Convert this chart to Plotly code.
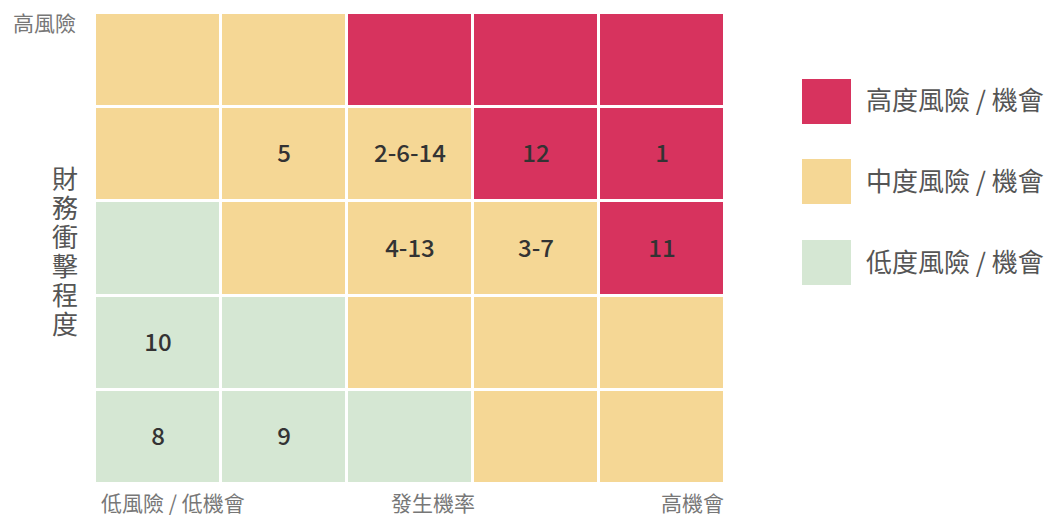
import plotly.graph_objects as go

# likelihood (x) 1..5, impact (y) 5..1 top to bottom
likelihood = [1, 2, 3, 4, 5]
impact = [5, 4, 3, 2, 1]

# risk level: 0 = low, 1 = medium, 2 = high
level_rows = [
    [1, 1, 2, 2, 2],
    [1, 1, 1, 2, 2],
    [0, 1, 1, 1, 2],
    [0, 0, 1, 1, 1],
    [0, 0, 0, 1, 1],
]
label_rows = [
    ["", "", "", "", ""],
    ["", "5", "2-6-14", "12", "1"],
    ["", "", "4-13", "3-7", "11"],
    ["10", "", "", "", ""],
    ["8", "9", "", "", ""],
]

level_names = ["低度風險 / 機會", "中度風險 / 機會", "高度風險 / 機會"]
level_colors = ["#D5E7D3", "#F5D795", "#D7335E"]

y_title = "財務衝擊程度"
top_label = "高風險"
bottom_left = "低風險 / 低機會"
bottom_mid = "發生機率"
bottom_right = "高機會"

FONT = "Noto Sans CJK TC"

colorscale = [
    [0.0, level_colors[0]], [1 / 3, level_colors[0]],
    [1 / 3, level_colors[1]], [2 / 3, level_colors[1]],
    [2 / 3, level_colors[2]], [1.0, level_colors[2]],
]

fig = go.Figure(go.Heatmap(
    x=likelihood, y=impact, z=level_rows, text=label_rows,
    texttemplate="%{text}",
    textfont=dict(family=FONT, size=24, color="#333333", weight=500),
    colorscale=colorscale, zmin=-0.5, zmax=2.5, showscale=False,
    xgap=3, ygap=3, hoverinfo="skip",
))

# page offset (default body margin)
OFF = 8
W, H = 1059, 515
L, R, T, B = 95, 725, 13, 484           # plot area in page pixels
ml, mt = L - OFF, T - OFF
mr, mb = W - (R - OFF), H - (B - OFF)
pw, ph = R - L, B - T

def px(x):
    return (x - L) / pw

def py(y):
    return (B - y) / ph

annotations = []
shapes = []

# legend
legend_tops = [79, 159, 240]
for i, top in enumerate(legend_tops):
    lvl = 2 - i
    shapes.append(dict(type="rect", xref="paper", yref="paper",
                       x0=px(802), x1=px(851), y0=py(top + 45), y1=py(top),
                       fillcolor=level_colors[lvl], line=dict(width=0)))
    annotations.append(dict(xref="paper", yref="paper", x=px(864), y=py(top + 20),
                            text=level_names[lvl], showarrow=False,
                            xanchor="left", yanchor="middle",
                            font=dict(family=FONT, size=26, color="#555555")))

# y title stacked characters
for k, ch in enumerate(y_title):
    annotations.append(dict(xref="paper", yref="paper", x=px(65), y=py(177 + 29 * k),
                            text=ch, showarrow=False, xanchor="center", yanchor="middle",
                            font=dict(family=FONT, size=26, color="#555555")))

annotations.append(dict(xref="paper", yref="paper", x=px(11), y=py(22), text=top_label,
                        showarrow=False, xanchor="left", yanchor="middle",
                        font=dict(family=FONT, size=21, color="#777777")))
annotations.append(dict(xref="paper", yref="paper", x=px(99), y=py(502), text=bottom_left,
                        showarrow=False, xanchor="left", yanchor="middle",
                        font=dict(family=FONT, size=21, color="#777777")))
annotations.append(dict(xref="paper", yref="paper", x=px(433), y=py(502), text=bottom_mid,
                        showarrow=False, xanchor="center", yanchor="middle",
                        font=dict(family=FONT, size=21, color="#777777")))
annotations.append(dict(xref="paper", yref="paper", x=px(726), y=py(502), text=bottom_right,
                        showarrow=False, xanchor="right", yanchor="middle",
                        font=dict(family=FONT, size=21, color="#777777")))

fig.update_layout(
    width=W, height=H,
    margin=dict(l=ml, r=mr, t=mt, b=mb, pad=0),
    paper_bgcolor="white", plot_bgcolor="white",
    xaxis=dict(visible=False, range=[0.5, 5.5], fixedrange=True),
    yaxis=dict(visible=False, range=[0.5, 5.5], fixedrange=True),
    annotations=annotations, shapes=shapes, showlegend=False,
    font=dict(family=FONT),
)

fig.write_html("out.html")
